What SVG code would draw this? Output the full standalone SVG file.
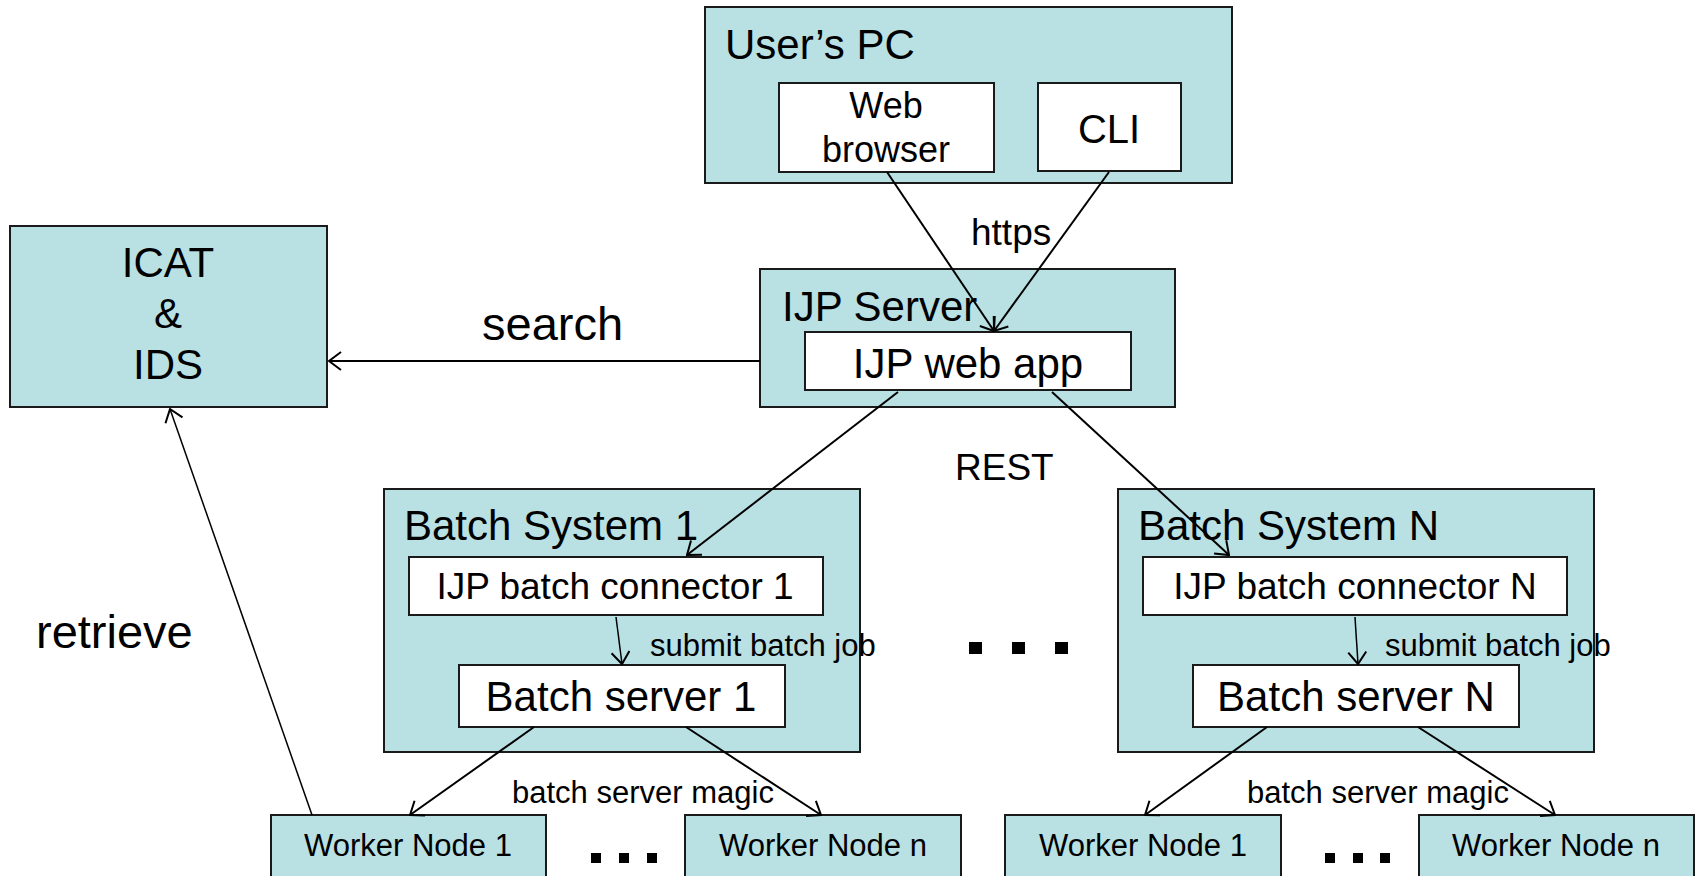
<svg xmlns="http://www.w3.org/2000/svg" width="1700" height="876" viewBox="0 0 1700 876">
<style>
.box{fill:#B9E0E3;stroke:#1a1a1a;stroke-width:2}
.inner{fill:#ffffff;stroke:#1a1a1a;stroke-width:2}
text{font-family:"Liberation Sans",Arial,sans-serif;fill:#000}
.c{text-anchor:middle}
.ln{stroke:#000;stroke-width:2;fill:none;marker-end:url(#ah)}
.thin{stroke:#000;stroke-width:1.5;fill:none;marker-end:url(#ah)}
.dot{fill:#000}
</style>
<defs>
<marker id="ah" viewBox="0 0 14 20" refX="13" refY="10" markerWidth="14" markerHeight="20" markerUnits="userSpaceOnUse" orient="auto">
<path d="M1,1 L13,10 L1,19" fill="none" stroke="#000" stroke-width="2"/>
</marker>
</defs>
<rect width="1700" height="876" fill="#fff"/>
<g id="icat">
<rect class="box" x="10" y="226" width="317" height="181"/>
<text class="c" x="168" y="277" font-size="42">ICAT</text>
<text class="c" x="168" y="328" font-size="42">&amp;</text>
<text class="c" x="168" y="379" font-size="42">IDS</text>
</g>
<g id="users-pc">
<rect class="box" x="705" y="7" width="527" height="176"/>
<text x="725" y="59" font-size="42">User’s PC</text>
</g>
<g id="web-browser">
<rect class="inner" x="779" y="83" width="215" height="89"/>
<text class="c" x="886" y="118" font-size="36">Web</text>
<text class="c" x="886" y="162" font-size="36">browser</text>
</g>
<g id="cli">
<rect class="inner" x="1038" y="83" width="143" height="88"/>
<text class="c" x="1109" y="143" font-size="40">CLI</text>
</g>
<g id="ijp-server">
<rect class="box" x="760" y="269" width="415" height="138"/>
<text x="782" y="321" font-size="42">IJP Server</text>
</g>
<g id="ijp-web-app">
<rect class="inner" x="805" y="332" width="326" height="58"/>
<text class="c" x="968" y="378" font-size="42">IJP web app</text>
</g>
<g id="batch-system-1">
<rect class="box" x="384" y="489" width="476" height="263"/>
<text x="404" y="540" font-size="42">Batch System 1</text>
</g>
<g id="connector-1">
<rect class="inner" x="409" y="557" width="414" height="58"/>
<text class="c" x="615" y="599" font-size="37">IJP batch connector 1</text>
</g>
<g id="batch-server-1">
<rect class="inner" x="459" y="665" width="326" height="62"/>
<text class="c" x="621" y="711" font-size="42">Batch server 1</text>
</g>
<g id="batch-system-n">
<rect class="box" x="1118" y="489" width="476" height="263"/>
<text x="1138" y="540" font-size="42">Batch System N</text>
</g>
<g id="connector-n">
<rect class="inner" x="1143" y="557" width="424" height="58"/>
<text class="c" x="1355" y="599" font-size="37">IJP batch connector N</text>
</g>
<g id="batch-server-n">
<rect class="inner" x="1193" y="665" width="326" height="62"/>
<text class="c" x="1356" y="711" font-size="42">Batch server N</text>
</g>
<g id="worker-1a">
<rect class="box" x="271" y="815" width="275" height="70"/>
<text class="c" x="408" y="856" font-size="31">Worker Node 1</text>
</g>
<g id="worker-na">
<rect class="box" x="685" y="815" width="276" height="70"/>
<text class="c" x="823" y="856" font-size="31">Worker Node n</text>
</g>
<g id="worker-1b">
<rect class="box" x="1005" y="815" width="276" height="70"/>
<text class="c" x="1143" y="856" font-size="31">Worker Node 1</text>
</g>
<g id="worker-nb">
<rect class="box" x="1419" y="815" width="275" height="70"/>
<text class="c" x="1556" y="856" font-size="31">Worker Node n</text>
</g>
<g id="ellipses">
<rect class="dot" x="591" y="853" width="10" height="10"/>
<rect class="dot" x="619" y="853" width="10" height="10"/>
<rect class="dot" x="647" y="853" width="10" height="10"/>
<rect class="dot" x="1325" y="853" width="10" height="10"/>
<rect class="dot" x="1353" y="853" width="10" height="10"/>
<rect class="dot" x="1380" y="853" width="10" height="10"/>
<rect class="dot" x="969" y="642" width="13" height="12"/>
<rect class="dot" x="1012" y="642" width="13" height="12"/>
<rect class="dot" x="1055" y="642" width="13" height="12"/>
</g>
<g id="connectors">
<line class="ln" x1="760" y1="361" x2="329" y2="361" stroke-width="2.5"/>
<line class="ln" x1="887" y1="172" x2="994" y2="331"/>
<line class="ln" x1="1109" y1="172" x2="994" y2="331"/>
<line class="ln" x1="898" y1="392" x2="687" y2="555"/>
<line class="ln" x1="1052" y1="392" x2="1229" y2="555"/>
<line class="thin" x1="616" y1="617" x2="622" y2="664"/>
<line class="thin" x1="1355" y1="617" x2="1358" y2="664"/>
<line class="ln" x1="534" y1="727" x2="410" y2="815"/>
<line class="ln" x1="686" y1="727" x2="821" y2="815"/>
<line class="ln" x1="1267" y1="727" x2="1145" y2="815"/>
<line class="ln" x1="1418" y1="727" x2="1555" y2="815"/>
<line class="thin" x1="312" y1="815" x2="170" y2="409"/>
</g>
<g id="labels">
<text x="971" y="245" font-size="37">https</text>
<text x="482" y="340" font-size="47">search</text>
<text x="36" y="648" font-size="47">retrieve</text>
<text x="955" y="480" font-size="37">REST</text>
<text x="650" y="656" font-size="31">submit batch job</text>
<text x="1385" y="656" font-size="31">submit batch job</text>
<text x="512" y="803" font-size="31">batch server magic</text>
<text x="1247" y="803" font-size="31">batch server magic</text>
</g>
</svg>
